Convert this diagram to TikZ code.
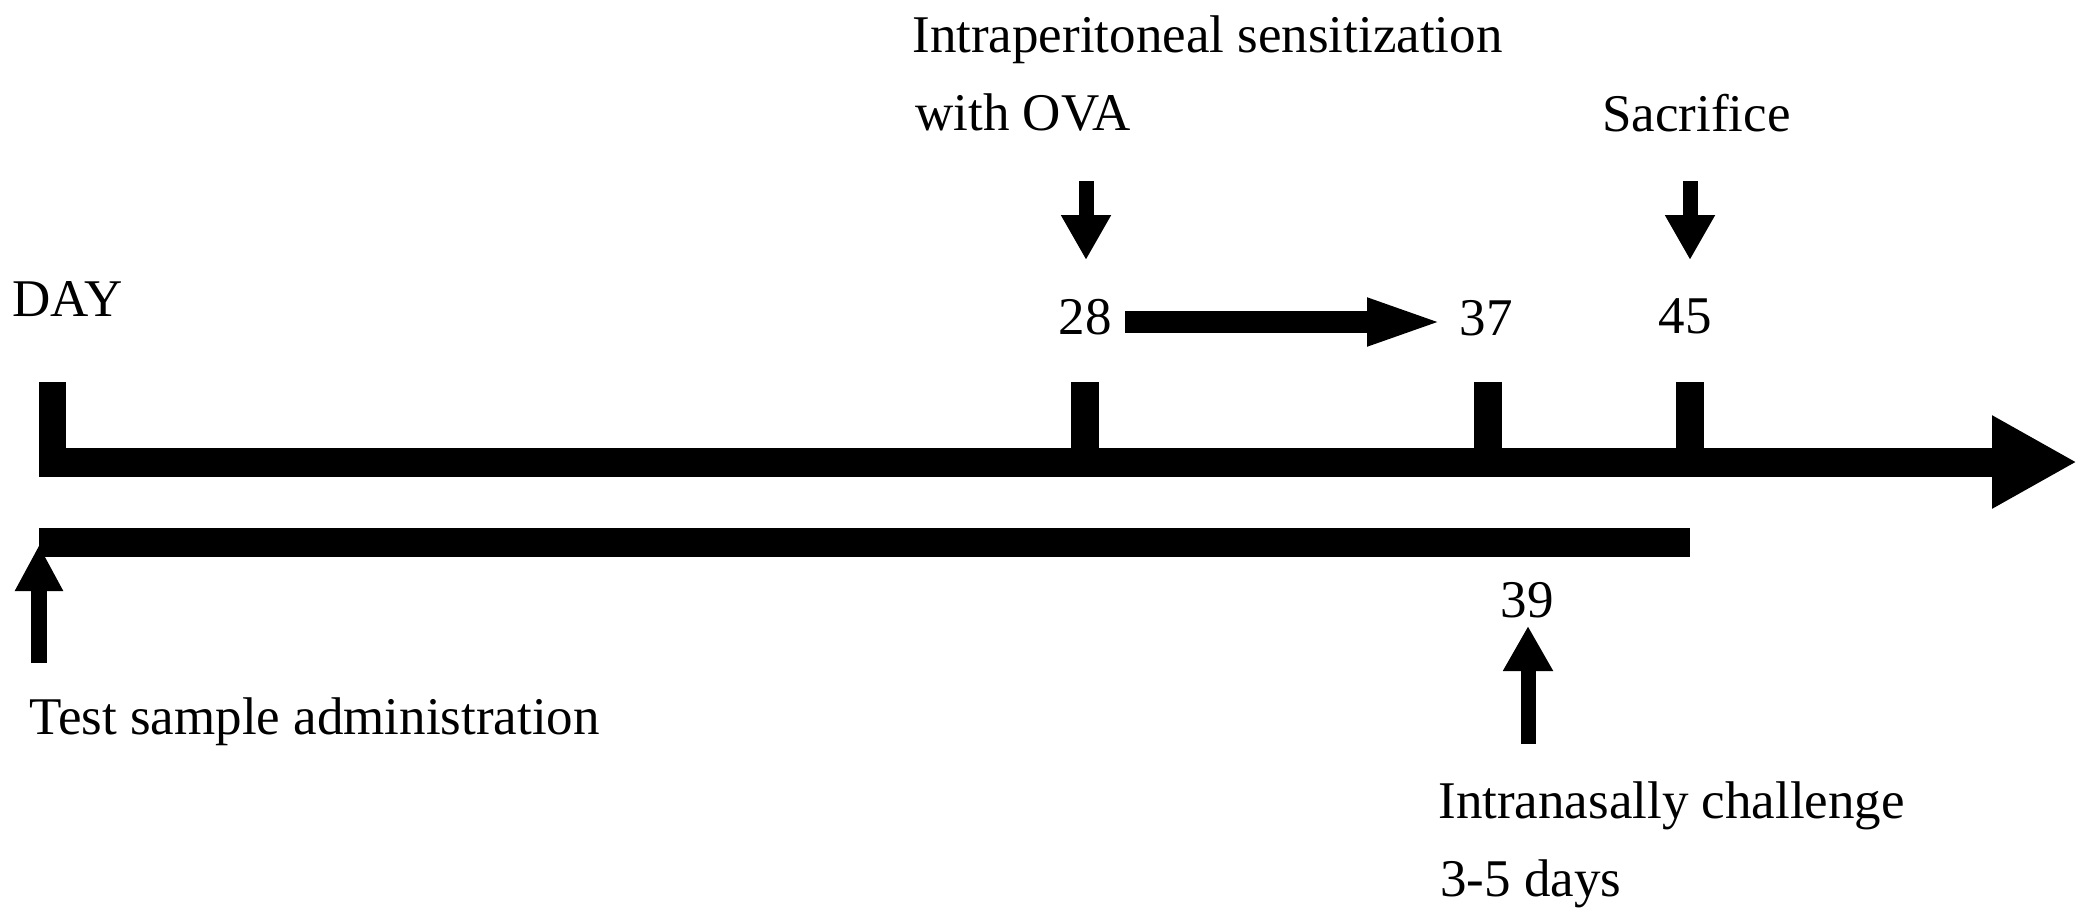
\documentclass[tikz,border=0pt]{standalone}
\usepackage{fontspec}
\setmainfont{Liberation Serif}
\usetikzlibrary{arrows.meta}

\begin{document}
\begin{tikzpicture}[x=0.5pt,y=-0.5pt,
	lbl/.style={inner sep=0pt, font=\fontsize{26.5}{30}\selectfont},
	daytick/.style={fill=black},
	vertarrow/.style={line width=7.5pt, -{Triangle[length=22.5pt,width=23.5pt]}}]
	\useasboundingbox (0,0) rectangle (2083,923);
	% time axis
	\coordinate (day0) at (39,462);
	\coordinate (axisend) at (2077,462);
	\draw[line width=14.5pt, -{Triangle[length=42.5pt,width=43.5pt]}] (day0) -- (axisend);
	\fill[daytick] (39,382) rectangle (66,462);
	\fill[daytick] (1071,382) rectangle (1099,462);
	\fill[daytick] (1474,382) rectangle (1502,462);
	\fill[daytick] (1676,382) rectangle (1704,462);
	% administration period
	\fill (39,528) rectangle (1690,557);
	% labels
	\node[lbl, anchor=base west] (day) at (12,316) {DAY};
	\node[lbl, anchor=base] (d28) at (1085,334) {28};
	\node[lbl, anchor=base] (d37) at (1486,335) {37};
	\node[lbl, anchor=base] (d45) at (1685,333) {45};
	\node[lbl, anchor=base] (d39) at (1527,617) {39};
	\node[lbl, anchor=base west] (ip) at (912,52) {Intraperitoneal sensitization};
	\node[lbl, anchor=base west] (ova) at (915,130) {with OVA};
	\node[lbl, anchor=base west] (sac) at (1602,131) {Sacrifice};
	\node[lbl, anchor=base west] (test) at (29,734) {Test sample administration};
	\node[lbl, anchor=base west] (inas) at (1438,818) {Intranasally challenge};
	\node[lbl, anchor=base west] (days) at (1440,896) {3-5 days};
	% arrows
	\coordinate (ovatop) at (1086,181);
	\coordinate (ovatip) at (1086,260);
	\coordinate (sactop) at (1690,181);
	\coordinate (sactip) at (1690,260);
	\coordinate (inasfoot) at (1528,744);
	\coordinate (inastip) at (1528,626);
	\coordinate (testfoot) at (39,663);
	\coordinate (testtip) at (39,545);
	\coordinate (ipstart) at (1125,322);
	\coordinate (ipend) at (1446,322);
	\draw[vertarrow] (ovatop) -- (ovatip);
	\draw[vertarrow] (sactop) -- (sactip);
	\draw[vertarrow] (inasfoot) -- (inastip);
	\draw[line width=8pt, -{Triangle[length=23pt,width=22.5pt]}] (testfoot) -- (testtip);
	\draw[line width=11pt, -{Triangle[length=39.5pt,width=21pt]}] (ipstart) -- (ipend);
\end{tikzpicture}
\end{document}
